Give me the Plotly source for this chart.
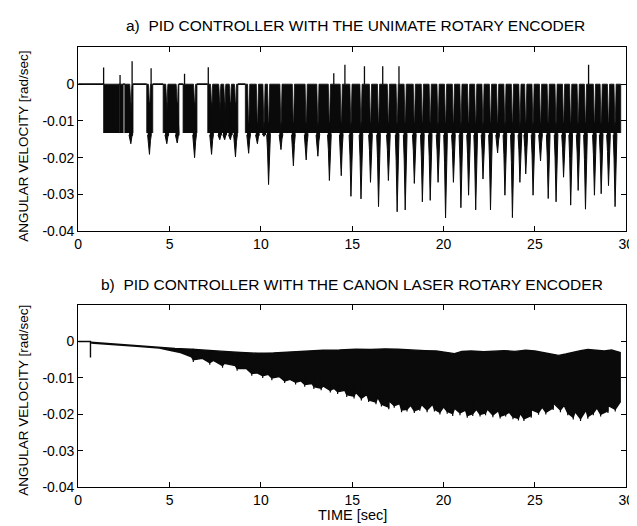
import plotly.graph_objects as go

# ---------------- text ----------------
a_title = "a)  PID CONTROLLER WITH THE UNIMATE ROTARY ENCODER"
b_title = "b)  PID CONTROLLER WITH THE CANON LASER ROTARY ENCODER"
y_title = "ANGULAR VELOCITY [rad/sec]"
x_title = "TIME [sec]"

x_ticks = [0, 5, 10, 15, 20, 25, 30]
y_ticks = [-0.04, -0.03, -0.02, -0.01, 0]
y_tick_text = ["-0.04", "-0.03", "-0.02", "-0.01", "0"]

# ---------------- Panel a) UNIMATE encoder ----------------
# intervals where the signal chatters between 0 and the lower quantisation level
a_burst_start = [1.39, 2.28, 2.55, 3.75, 4.65, 5.74, 7.09, 9.15]
a_burst_end = [2.25, 2.46, 3.00, 4.08, 5.51, 6.50, 8.74, 29.70]
a_band_low = -0.0133

# downward dips (time, depth)
a_dip_t = [2.88, 3.90, 4.85, 5.42, 6.37, 7.30, 7.75, 8.02, 8.33, 8.61,
           9.33, 9.81, 10.17, 10.42, 11.10, 11.78, 12.48, 13.12, 13.75, 14.40,
           14.93, 15.48, 16.00, 16.44, 16.98, 17.46, 17.90, 18.40, 18.84, 19.27,
           19.70, 20.11, 20.54, 20.95, 21.37, 21.76, 22.16, 22.57, 22.96, 23.36,
           23.77, 24.18, 24.50, 24.90, 25.31, 25.73, 26.16, 26.57, 26.96, 27.37,
           27.77, 28.26, 28.63, 29.03, 29.39]
a_dip_v = [-0.0162, -0.0191, -0.0162, -0.0160, -0.0200, -0.0191, -0.0151, -0.0151, -0.0151, -0.0198,
           -0.0188, -0.0162, -0.0142, -0.0273, -0.0178, -0.0222, -0.0206, -0.0196, -0.0262, -0.0249,
           -0.0305, -0.0312, -0.0267, -0.0333, -0.0262, -0.0347, -0.0342, -0.0270, -0.0320, -0.0316,
           -0.0267, -0.0364, -0.0267, -0.0336, -0.0302, -0.0342, -0.0258, -0.0342, -0.0187, -0.0302,
           -0.0363, -0.0267, -0.0244, -0.0302, -0.0209, -0.0311, -0.0320, -0.0253, -0.0329, -0.0289,
           -0.0340, -0.0302, -0.0298, -0.0276, -0.0333]

# upward spikes (time, height)
a_up_t = [1.39, 2.29, 2.95, 3.99, 5.82, 7.12, 13.99, 14.60, 15.67, 16.67, 17.56, 27.94]
a_up_v = [0.0045, 0.0025, 0.0062, 0.0043, 0.0028, 0.0046, 0.0030, 0.0053, 0.0049, 0.0049, 0.0049, 0.0053]

# ---------------- Panel b) CANON laser encoder ----------------
b_kick_t = 0.67
b_kick_v = -0.0044

b_up_t = [0.67, 2.0, 3.2, 4.44, 5.3, 6.2, 7.1, 8.0, 8.9, 9.8,
          10.7, 11.6, 12.5, 13.4, 14.3, 15.2, 16.0, 16.8, 17.5, 18.3,
          19.0, 19.6, 20.2, 20.6, 21.0, 21.5, 22.2, 22.8, 23.3, 23.9,
          24.5, 25.0, 25.5, 25.9, 26.3, 26.7, 27.0, 27.5, 27.9, 28.4,
          28.8, 29.2, 29.5, 29.67]
b_up_v = [-0.0002, -0.0007, -0.0012, -0.0016, -0.0019, -0.0021, -0.0025, -0.0027, -0.0030, -0.0032,
          -0.0031, -0.0028, -0.0027, -0.0024, -0.0023, -0.0021, -0.0022, -0.0020, -0.0021, -0.0024,
          -0.0025, -0.0026, -0.0029, -0.0033, -0.0027, -0.0026, -0.0028, -0.0026, -0.0025, -0.0027,
          -0.0024, -0.0026, -0.0030, -0.0034, -0.0038, -0.0034, -0.0030, -0.0025, -0.0022, -0.0024,
          -0.0026, -0.0023, -0.0028, -0.0030]

b_lo_t = [0.67, 2.0, 3.2, 4.44, 5.0, 5.6, 6.2, 6.8, 7.4, 8.0,
          8.6, 9.2, 9.8, 10.4, 11.0, 11.6, 12.2, 12.8, 13.4, 14.0,
          14.6, 15.2, 15.8, 16.4, 17.0, 17.6, 18.2, 18.8, 19.4, 20.0,
          20.6, 21.2, 21.8, 22.4, 23.0, 23.6, 24.2, 24.8, 25.4, 26.0,
          26.6, 27.2, 27.8, 28.4, 29.0, 29.67]
b_lo_v = [-0.0004, -0.0009, -0.0013, -0.0018, -0.0024, -0.0030, -0.0042, -0.0046, -0.0052, -0.0060,
          -0.0066, -0.0074, -0.0086, -0.0090, -0.0096, -0.0104, -0.0108, -0.0115, -0.0122, -0.0128,
          -0.0134, -0.0139, -0.0145, -0.0153, -0.0162, -0.0170, -0.0175, -0.0173, -0.0172, -0.0179,
          -0.0183, -0.0188, -0.0186, -0.0185, -0.0190, -0.0194, -0.0197, -0.0187, -0.0180, -0.0168,
          -0.0175, -0.0192, -0.0188, -0.0182, -0.0175, -0.0166]

# visible downward hairs on the lower edge (time, tip)
b_spk_t = [6.3, 7.2, 7.9, 8.7, 9.5, 10.1, 10.6, 11.3, 11.9, 12.4,
           12.9, 13.3, 13.8, 14.2, 14.7, 15.1, 15.5, 15.9, 16.3, 16.6,
           17.0, 17.3, 17.7, 18.0, 18.4, 18.7, 19.1, 19.5, 19.8, 20.2,
           20.5, 20.9, 21.3, 21.6, 22.0, 22.3, 22.7, 23.1, 23.4, 23.8,
           24.1, 24.4, 24.8, 25.2, 25.6, 26.0, 26.4, 26.8, 27.1, 27.5,
           27.9, 28.2, 28.6, 29.0, 29.4]
b_spk_v = [-0.0050, -0.0058, -0.0066, -0.0074, -0.0088, -0.0094, -0.0100, -0.0108, -0.0112, -0.0118,
           -0.0124, -0.0128, -0.0134, -0.0138, -0.0146, -0.0150, -0.0156, -0.0160, -0.0166, -0.0172,
           -0.0180, -0.0176, -0.0188, -0.0186, -0.0190, -0.0184, -0.0188, -0.0186, -0.0194, -0.0192,
           -0.0198, -0.0196, -0.0203, -0.0198, -0.0200, -0.0196, -0.0202, -0.0205, -0.0200, -0.0207,
           -0.0211, -0.0212, -0.0203, -0.0195, -0.0194, -0.0182, -0.0188, -0.0196, -0.0208, -0.0212,
           -0.0206, -0.0196, -0.0200, -0.0190, -0.0186]

# ---------------- build figure ----------------
FONT = "Arial, 'Liberation Sans', sans-serif"
BLACK = "#0a0a0a"
W, H = 637, 526

fig = go.Figure()

# ---- panel a geometry from the data ----
NT, NB = 0.06, 0.008


def notch_depth(t):
    return -0.005 if t < 9 else -0.0105


bx, by = [], []
for s, e in zip(a_burst_start, a_burst_end):
    inner = [t for t in a_dip_t if s < t < e]
    bounds = [s] + inner + [e]
    for i in range(len(bounds) - 1):
        a, b = bounds[i], bounds[i + 1]
        px, py = [], []
        if i == 0:
            px += [a, a]
            py += [a_band_low, 0]
        else:
            nd = notch_depth(a)
            px += [a, a + NB, a + NT * 0.7, a + NT]
            py += [a_band_low, nd, nd * 0.25, 0]
        if i == len(bounds) - 2:
            px += [b, b]
            py += [0, a_band_low]
        else:
            nd = notch_depth(b)
            px += [b - NT, b - NT * 0.7, b - NB, b]
            py += [0, nd * 0.25, nd, a_band_low]
        bx += px + [None]
        by += py + [None]

fig.add_trace(go.Scatter(x=bx, y=by, mode="lines", fill="toself", fillcolor=BLACK,
                         line=dict(color=BLACK, width=0.8), hoverinfo="skip",
                         showlegend=False, xaxis="x", yaxis="y"))

# dips drawn as teardrop spikes
dx, dy = [], []
for t, v in zip(a_dip_t, a_dip_v):
    nd = notch_depth(t)
    mid = a_band_low + (v - a_band_low) * 0.35
    dx += [t - NB, t + NB, t + 0.10, t + 0.055, t, t - 0.055, t - 0.10, None]
    dy += [nd, nd, a_band_low - 0.0005, mid, v, mid, a_band_low - 0.0005, None]
fig.add_trace(go.Scatter(x=dx, y=dy, mode="lines", fill="toself", fillcolor=BLACK,
                         line=dict(color=BLACK, width=1.0), hoverinfo="skip",
                         showlegend=False, xaxis="x", yaxis="y"))

# flat zero segments (between bursts)
fx, fy = [], []
prev = 0.0
for s, e in zip(a_burst_start, a_burst_end):
    fx += [prev, s, None]
    fy += [0, 0, None]
    prev = e
fig.add_trace(go.Scatter(x=fx, y=fy, mode="lines", line=dict(color=BLACK, width=1.6),
                         hoverinfo="skip", showlegend=False, xaxis="x", yaxis="y"))

# upward spikes
ux, uy = [], []
for t, v in zip(a_up_t, a_up_v):
    ux += [t, t, None]
    uy += [0, v, None]
fig.add_trace(go.Scatter(x=ux, y=uy, mode="lines", line=dict(color=BLACK, width=1.3),
                         hoverinfo="skip", showlegend=False, xaxis="x", yaxis="y"))

# ---- panel b ----
fig.add_trace(go.Scatter(x=[0, b_kick_t, b_kick_t, b_kick_t], y=[0, 0, b_kick_v, b_up_v[0]],
                         mode="lines", line=dict(color=BLACK, width=1.4), hoverinfo="skip",
                         showlegend=False, xaxis="x2", yaxis="y2"))

# lower edge = base envelope merged with the hair tips (jagged edge)
lower = sorted(list(zip(b_lo_t, b_lo_v)) + list(zip(b_spk_t, b_spk_v)))
px_ = list(b_up_t) + [p[0] for p in reversed(lower)]
py_ = list(b_up_v) + [p[1] for p in reversed(lower)]
fig.add_trace(go.Scatter(x=px_, y=py_, mode="lines", fill="toself", fillcolor=BLACK,
                         line=dict(color=BLACK, width=1.4), hoverinfo="skip",
                         showlegend=False, xaxis="x2", yaxis="y2"))

sx, sy = [], []
for t, v in zip(b_spk_t, b_spk_v):
    sx += [t, t, None]
    sy += [v + 0.0030, v - 0.0006, None]
fig.add_trace(go.Scatter(x=sx, y=sy, mode="lines", line=dict(color=BLACK, width=1.2),
                         hoverinfo="skip", showlegend=False, xaxis="x2", yaxis="y2"))

# ---- axes ----
xdom = [67.5 / W, 626 / W]
dom_a = [1 - 226.7 / H, 1 - 40 / H]
dom_b = [1 - 486.7 / H, 1 - 301.7 / H]

ax_common = dict(showline=True, linecolor="black", linewidth=1.2, mirror="ticks",
                 ticks="inside", ticklen=5, tickcolor="black", tickwidth=1.2,
                 showgrid=False, zeroline=False,
                 tickfont=dict(family=FONT, size=14, color="black"))

fig.update_layout(
    width=W, height=H,
    margin=dict(l=0, r=0, t=0, b=0),
    paper_bgcolor="white", plot_bgcolor="white",
    showlegend=False,
    xaxis=dict(domain=xdom, range=[0, 30], tickvals=x_ticks, anchor="y", **ax_common),
    yaxis=dict(domain=dom_a, range=[-0.04, 0.01], tickvals=y_ticks, ticktext=y_tick_text,
               anchor="x", **ax_common),
    xaxis2=dict(domain=xdom, range=[0, 30], tickvals=x_ticks, anchor="y2", **ax_common),
    yaxis2=dict(domain=dom_b, range=[-0.04, 0.01], tickvals=y_ticks, ticktext=y_tick_text,
                anchor="x2", **ax_common),
)

ann = dict(xref="paper", yref="paper", showarrow=False)
tfont = dict(family=FONT, size=15.5, color="black")
yfont = dict(family=FONT, size=13.5, color="black")
fig.add_annotation(text=a_title, x=350 / W, y=1 - 18 / H, xanchor="center", yanchor="middle",
                   font=tfont, **ann)
fig.add_annotation(text=b_title, x=347 / W, y=1 - 281 / H, xanchor="center", yanchor="middle",
                   font=tfont, **ann)
fig.add_annotation(text=x_title, x=347 / W, y=1 - 515 / H, xanchor="center", yanchor="middle",
                   font=dict(family=FONT, size=14.5, color="black"), **ann)
fig.add_annotation(text=y_title, x=12 / W, y=1 - 140 / H, xanchor="center", yanchor="middle",
                   textangle=-90, font=yfont, **ann)
fig.add_annotation(text=y_title, x=12 / W, y=1 - 398 / H, xanchor="center", yanchor="middle",
                   textangle=-90, font=yfont, **ann)

fig.write_html("out.html")
